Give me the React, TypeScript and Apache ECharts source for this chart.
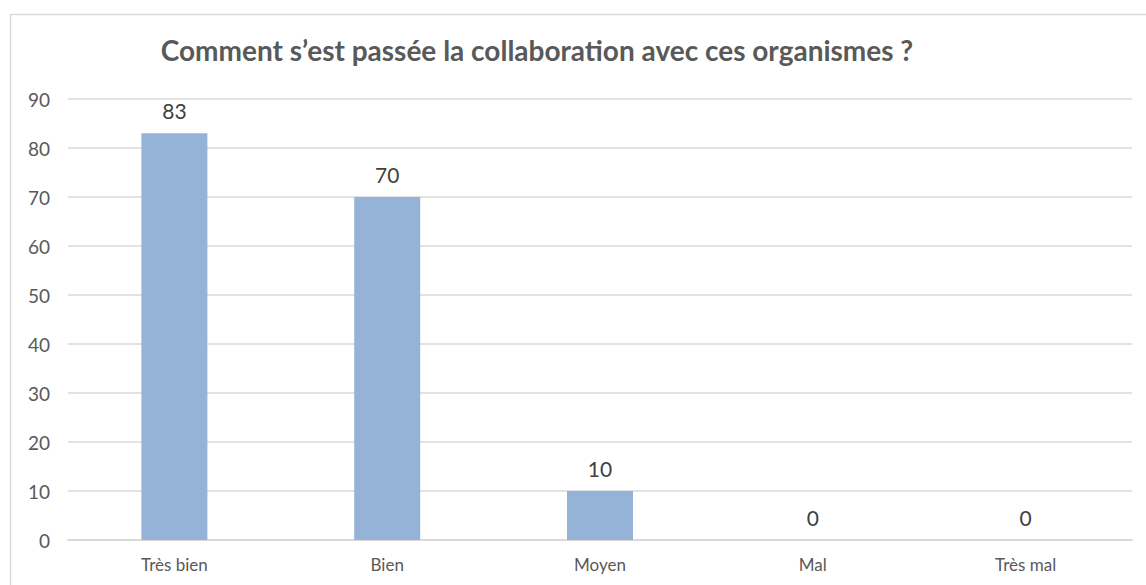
import React, { useEffect, useRef } from "react";
import * as echarts from "echarts";

const categories = ["Très bien", "Bien", "Moyen", "Mal", "Très mal"];
const values = [83, 70, 10, 0, 0];
const yTicks = { min: 0, max: 90, interval: 10 };
const title = "Comment s’est passée la collaboration avec ces organismes ?";

export default function App() {
  const ref = useRef<HTMLDivElement>(null);
  useEffect(() => {
    const chart = echarts.init(ref.current!, null, { renderer: "svg" });
    chart.setOption({
      animation: false,
      backgroundColor: "#ffffff",
      title: {
        text: title,
        left: 532,
        top: 31,
        textAlign: "center",
        textStyle: { fontFamily: "Lato", fontWeight: "bold", fontSize: 28, color: "#595959" },
      },
      graphic: [
        {
          type: "rect",
          shape: { x: 10.5, y: 14.5, width: 1300, height: 700 },
          style: { fill: "none", stroke: "#d9d9d9", lineWidth: 1.5 },
          silent: true,
        },
      ],
      grid: { left: 68, right: 14, top: 99, bottom: 45 },
      xAxis: {
        type: "category",
        data: categories,
        axisLine: { lineStyle: { color: "#d9d9d9", width: 2 } },
        axisTick: { show: false },
        axisLabel: { fontFamily: "Lato", fontSize: 17, color: "#595959", margin: 16 },
      },
      yAxis: {
        type: "value",
        min: yTicks.min,
        max: yTicks.max,
        interval: yTicks.interval,
        axisLine: { show: false },
        axisTick: { show: false },
        splitLine: { lineStyle: { color: "#d9d9d9", width: 1.5 } },
        axisLabel: { fontFamily: "Lato", fontSize: 19, color: "#595959", margin: 18 },
      },
      series: [
        {
          type: "bar",
          data: values,
          barWidth: 66,
          itemStyle: { color: "#95b3d7" },
          label: {
            show: true,
            position: "top",
            distance: 12,
            fontFamily: "Lato",
            fontSize: 21,
            color: "#404040",
          },
        },
      ],
    });
    return () => chart.dispose();
  }, []);
  return (
    <div
      ref={ref}
      style={{ position: "fixed", left: 0, top: 0, width: 1146, height: 585 }}
    />
  );
}
